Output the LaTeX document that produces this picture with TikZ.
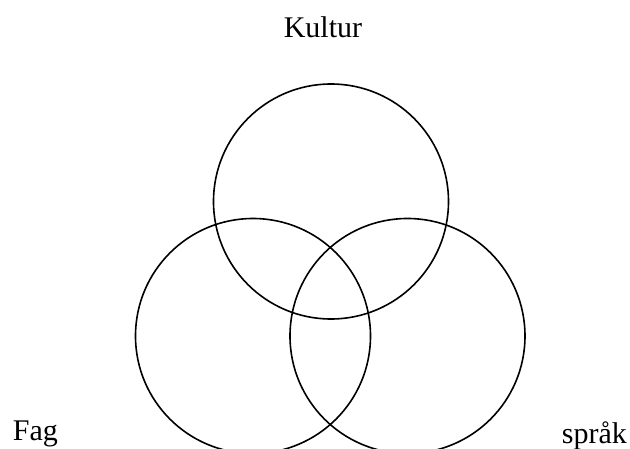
\documentclass[tikz,border=0pt]{standalone}
\usepackage{fontspec}
\setmainfont{Liberation Serif}
\usepackage{xcolor}
\definecolor{lineblack}{RGB}{0,0,0}

\begin{document}
\begin{tikzpicture}[
  x=1pt, y=1pt,
  ring/.style={circle, draw=lineblack, minimum size=235pt, inner sep=0pt, line width=1.6pt},
  lbl/.style={font=\fontsize{30}{36}\selectfont, inner sep=0pt}
]
\useasboundingbox (0,0) rectangle (630,448);
\node[ring] (ckultur) at (331,246.5) {};
\node[ring] (cfag) at (253,112) {};
\node[ring] (csprak) at (407.5,112) {};

\node[lbl, anchor=base] (kultur) at (323,410) {Kultur};
\node[lbl, anchor=base west] (fag) at (12.7,8) {Fag};
\node[lbl, anchor=base west] (sprak) at (561.7,5) {språk};
\end{tikzpicture}
\end{document}
